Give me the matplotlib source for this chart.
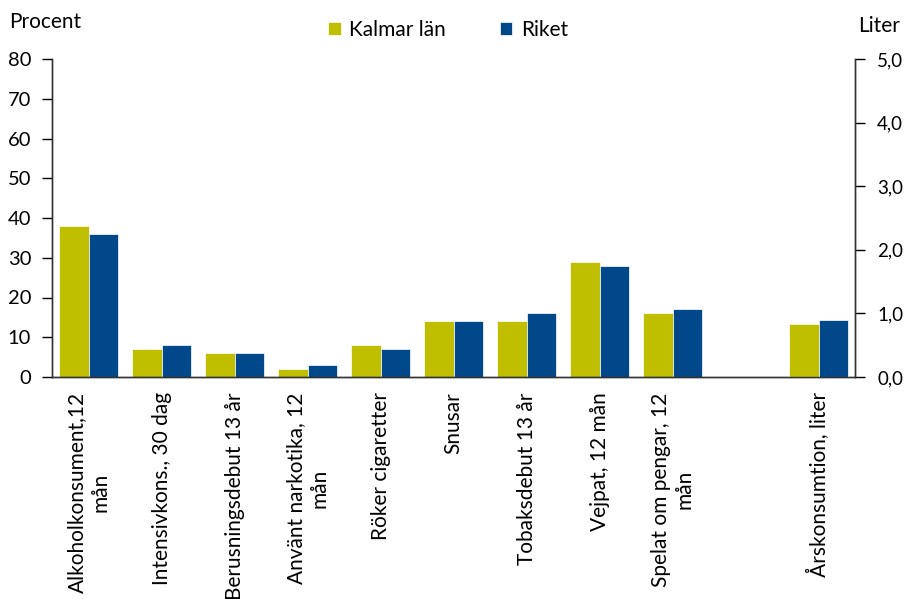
import numpy as np
import matplotlib
matplotlib.use("Agg")
import matplotlib.pyplot as plt
from matplotlib.ticker import FuncFormatter

plt.rcParams["font.family"] = ["Lato", "DejaVu Sans"]

categories = [
    "Alkoholkonsument,12\nmån",
    "Intensivkons., 30 dag",
    "Berusningsdebut 13 år",
    "Använt narkotika, 12\nmån",
    "Röker cigaretter",
    "Snusar",
    "Tobaksdebut 13 år",
    "Vejpat, 12 mån",
    "Spelat om pengar, 12\nmån",
]
kalmar_pct = [38, 7, 6, 2, 8, 14, 14, 29, 16]
riket_pct = [36, 8, 6, 3, 7, 14, 16, 28, 17]

liter_label = "Årskonsumtion, liter"
kalmar_liter = 0.84
riket_liter = 0.89

series_names = ["Kalmar län", "Riket"]
left_ticks = [0, 10, 20, 30, 40, 50, 60, 70, 80]
right_ticks = [0, 1, 2, 3, 4, 5]

YELLOW = "#BFBF00"
BLUE = "#00488A"
w = 0.4
FS = 15

fig = plt.figure(figsize=(9.05, 5.99), dpi=100)
ax = fig.add_axes([52 / 905, 222 / 599, 803 / 905, 318 / 599])
ax2 = ax.twinx()

x = np.arange(len(categories))
ax.bar(x - w / 2, kalmar_pct, w, color=YELLOW, edgecolor="white", linewidth=0.5, label=series_names[0])
ax.bar(x + w / 2, riket_pct, w, color=BLUE, edgecolor="white", linewidth=0.5, label=series_names[1])

xl = len(categories) + 1  # leave one empty slot
ax2.bar(xl - w / 2, kalmar_liter, w, color=YELLOW, edgecolor="white", linewidth=0.5)
ax2.bar(xl + w / 2, riket_liter, w, color=BLUE, edgecolor="white", linewidth=0.5)

ax.set_xlim(-0.5, xl + 0.5)
ax.set_ylim(0, 80)
ax2.set_ylim(0, 5)
ax.set_yticks(left_ticks)
ax2.set_yticks(right_ticks)
ax2.yaxis.set_major_formatter(FuncFormatter(lambda v, p: f"{v:.1f}".replace(".", ",")))

ax.set_xticks(list(x) + [xl])
ax.set_xticklabels(categories + [liter_label], rotation=90, ha="center", va="top",
                   multialignment="center")
ax.tick_params(axis="x", length=0, pad=11, labelsize=FS)
ax.tick_params(axis="y", direction="out", length=7, width=1, pad=8, labelsize=14.5)
ax2.tick_params(axis="y", direction="out", length=7, width=1, pad=9, labelsize=13.5)

for a in (ax, ax2):
    a.spines["top"].set_visible(False)
    for s in ("left", "right", "bottom"):
        a.spines[s].set_color("#333333")
        a.spines[s].set_linewidth(1)

fig.text(9 / 905, 1 - 22 / 599, "Procent", fontsize=FS, va="center", ha="left")
fig.text(900 / 905, 1 - 26 / 599, "Liter", fontsize=FS, va="center", ha="right")

fig.legend(loc="center", bbox_to_anchor=(448 / 905, 1 - 30 / 599), ncol=2, frameon=False,
           fontsize=FS, handlelength=0.6, handleheight=0.6, handletextpad=0.4,
           columnspacing=2.6)

fig.savefig("out.png", dpi=100)
